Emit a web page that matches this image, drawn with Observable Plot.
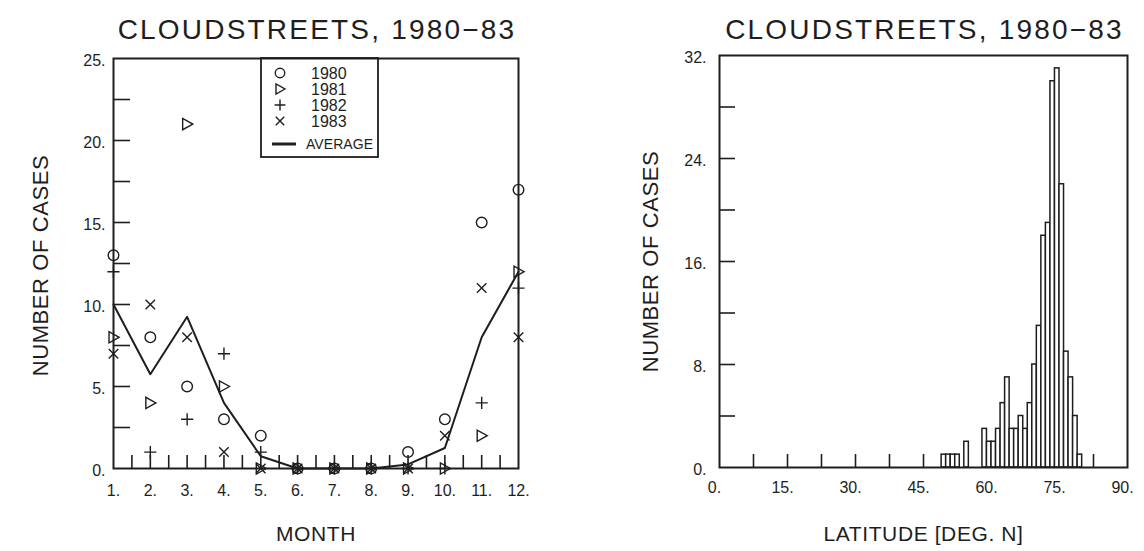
<!DOCTYPE html>
<html>
<head>
<meta charset="utf-8">
<script src="https://cdn.jsdelivr.net/npm/d3@7"></script>
<script src="https://cdn.jsdelivr.net/npm/@observablehq/plot@0.6"></script>
<style>
  body { margin: 0; background: #fff; width: 1144px; height: 551px; overflow: hidden; position: relative; }
  #panelA, #panelB { position: absolute; top: 0; }
  #panelA { left: 0; }
  #panelB { left: 572px; }
  .tag { position: absolute; top: 8px; font: 16px "Liberation Sans", Arial, sans-serif; color: #222; }
  .panel-title text { letter-spacing: 2.2px; }
  .axis-name text { letter-spacing: 0.6px; }
</style>
</head>
<body>
<div class="tag" style="left:22px">A)</div>
<div class="tag" style="left:622px">B)</div>
<div id="panelA"></div>
<div id="panelB"></div>
<script>
// ---- Panel A: monthly number of cloudstreet cases ----
const months = [1, 2, 3, 4, 5, 6, 7, 8, 9, 10, 11, 12];
const cases1980 = [13, 8, 5, 3, 2, 0, 0, 0, 1, 3, 15, 17];
const cases1981 = [8, 4, 21, 5, 0, 0, 0, 0, 0, 0, 2, 12];
const cases1982 = [12, 1, 3, 7, 1, 0, 0, 0, 0, 0, 4, 11];
const cases1983 = [7, 10, 8, 1, 0, 0, 0, 0, 0, 2, 11, 8];
const casesAverage = [10, 5.75, 9.25, 4, 0.75, 0, 0, 0, 0.25, 1.25, 8, 12];
const yearNames = ["1980", "1981", "1982", "1983"];
const averageName = "AVERAGE";
const monthTickLabels = [1, 2, 3, 4, 5, 6, 7, 8, 9, 10, 11, 12];
const monthMinorTicks = [1.5, 2, 2.5, 3, 3.5, 4, 4.5, 5, 5.5, 6, 6.5, 7, 7.5, 8, 8.5, 9, 9.5, 10, 10.5, 11, 11.5];
const casesTickLabelsA = [0, 5, 10, 15, 20, 25];
const casesMinorTicksA = [2.5, 5, 7.5, 10, 12.5, 15, 17.5, 20, 22.5];

// ---- Panel B: latitude distribution of cloudstreets ----
const latitudeBins = [49, 50, 51, 52, 54, 58, 59, 60, 61, 62, 63, 64, 65, 66, 67, 68, 69, 70, 71, 72, 73, 74, 75, 76, 77, 78, 79];
const latitudeCounts = [1, 1, 1, 1, 2, 3, 2, 2, 3, 5, 7, 3, 3, 4, 3, 5, 8, 11, 18, 19, 30, 31, 22, 9, 7, 4, 1];
const latTickLabels = [0, 15, 30, 45, 60, 75, 90];
const latMinorTicks = [7.5, 15, 22.5, 30, 37.5, 45, 52.5, 60, 67.5, 75, 82.5];
const casesTickLabelsB = [0, 8, 16, 24, 32];
const casesMinorTicksB = [4, 8, 12, 16, 20, 24, 28];

const titleText = "CLOUDSTREETS, 1980\u221283";
const ink = "#1e1e1e";
const font = "'Liberation Sans', Arial, sans-serif";

// open triangle pointing right
const triangleRight = {
  draw(context, size) {
    const r = Math.sqrt(size / Math.PI);
    context.moveTo(r, 0);
    context.lineTo(-0.8 * r, r);
    context.lineTo(-0.8 * r, -r);
    context.closePath();
  }
};

const series = [
  {name: yearNames[0], values: cases1980, symbol: "circle", r: 5.3},
  {name: yearNames[1], values: cases1981, symbol: triangleRight, r: 5.6},
  {name: yearNames[2], values: cases1982, symbol: "plus", r: 4.0},
  {name: yearNames[3], values: cases1983, symbol: "times", r: 4.4}
];

const rows = series.map(s => months.map((m, i) => ({month: m, n: s.values[i]})));
const withDot = v => v + ".";

const plotA = Plot.plot({
  width: 560,
  height: 551,
  marginLeft: 113,
  marginRight: 42,
  marginTop: 58,
  marginBottom: 83,
  style: {fontFamily: font, color: ink, background: "white", overflow: "visible"},
  x: {domain: [1, 12]},
  y: {domain: [0, 25]},
  marks: [
    Plot.axisY(casesMinorTicksA, {tickSize: -17, fill: "none", label: null, strokeWidth: 1.6}),
    Plot.axisY(casesTickLabelsA, {tickSize: 0, tickPadding: 8, tickFormat: withDot, fontSize: 16, label: null, dy: 2}),
    Plot.axisX(monthMinorTicks, {tickSize: -13, fill: "none", label: null, strokeWidth: 1.6}),
    Plot.axisX(monthTickLabels, {tickSize: 0, tickPadding: 16, tickFormat: withDot, fontSize: 16, label: null}),
    Plot.line(months, {x: months, y: casesAverage, stroke: ink, strokeWidth: 2}),
    ...series.map((s, k) => Plot.dot(rows[k], {x: "month", y: "n", symbol: s.symbol, r: s.r, stroke: ink, strokeWidth: 1.4, fill: "none"})),
    Plot.frame({stroke: ink, strokeWidth: 2}),
    Plot.text([titleText], {frameAnchor: "top", lineAnchor: "middle", dy: -28, dx: 1, fontSize: 28, fill: ink, className: "panel-title"}),
    Plot.text(["NUMBER OF CASES"], {frameAnchor: "left", textAnchor: "middle", dx: -73, dy: 2, rotate: -90, fontSize: 22, fill: ink, className: "axis-name"}),
    Plot.text(["MONTH"], {frameAnchor: "bottom", dy: 72, fontSize: 21, fill: ink, className: "axis-name"})
  ]
});
document.getElementById("panelA").append(plotA);

// legend box drawn inside panel A
{
  const svg = d3.select(plotA);
  const g = svg.append("g").attr("class", "legend").attr("fill", "none").attr("stroke", ink).attr("text-anchor", "start");
  g.append("rect").attr("x", 261).attr("y", 58).attr("width", 117).attr("height", 99).attr("stroke-width", 1.8);
  const rowY = [73, 89, 105, 121];
  series.forEach((s, k) => {
    const sym = typeof s.symbol === "string" ? {circle: d3.symbolCircle, plus: d3.symbolPlus, times: d3.symbolTimes}[s.symbol] : s.symbol;
    g.append("path")
      .attr("d", d3.symbol(sym, Math.PI * s.r * s.r * 0.8)())
      .attr("transform", `translate(280,${rowY[k]})`)
      .attr("stroke-width", 1.4);
    g.append("text").attr("x", 311).attr("y", rowY[k]).attr("dy", "0.35em")
      .attr("fill", ink).attr("stroke", "none").attr("font-size", 16).text(s.name);
  });
  g.append("line").attr("x1", 272).attr("x2", 296).attr("y1", 144).attr("y2", 144).attr("stroke-width", 3);
  g.append("text").attr("x", 306).attr("y", 144).attr("dy", "0.35em")
    .attr("fill", ink).attr("stroke", "none").attr("font-size", 14).attr("textLength", 67).text(averageName);
}

const plotB = Plot.plot({
  width: 572,
  height: 551,
  marginLeft: 147,
  marginRight: 17,
  marginTop: 55,
  marginBottom: 84,
  style: {fontFamily: font, color: ink, background: "white", overflow: "visible"},
  x: {domain: [0, 90]},
  y: {domain: [0, 32]},
  marks: [
    Plot.axisY(casesMinorTicksB, {tickSize: -16, fill: "none", label: null, strokeWidth: 1.6}),
    Plot.axisY(casesTickLabelsB, {tickSize: 0, tickPadding: 13, tickFormat: withDot, fontSize: 16, label: null, dy: 2}),
    Plot.axisX(latMinorTicks, {tickSize: -13, fill: "none", label: null, strokeWidth: 1.6}),
    Plot.axisX(latTickLabels, {tickSize: 0, tickPadding: 14, tickFormat: withDot, fontSize: 16, label: null, dx: -5}),
    Plot.rectY(latitudeBins, {x1: latitudeBins, x2: latitudeBins.map(d => d + 1), y: latitudeCounts, fill: "white", stroke: ink, strokeWidth: 1.5}),
    Plot.frame({stroke: ink, strokeWidth: 2}),
    Plot.text([titleText], {frameAnchor: "top", lineAnchor: "middle", dy: -25, dx: 1, fontSize: 28, fill: ink, className: "panel-title"}),
    Plot.text(["NUMBER OF CASES"], {frameAnchor: "left", textAnchor: "middle", dx: -69, rotate: -90, fontSize: 22, fill: ink, className: "axis-name"}),
    Plot.text(["LATITUDE [DEG. N]"], {frameAnchor: "bottom", dy: 73, fontSize: 21, fill: ink, className: "axis-name"})
  ]
});
document.getElementById("panelB").append(plotB);
</script>
</body>
</html>
